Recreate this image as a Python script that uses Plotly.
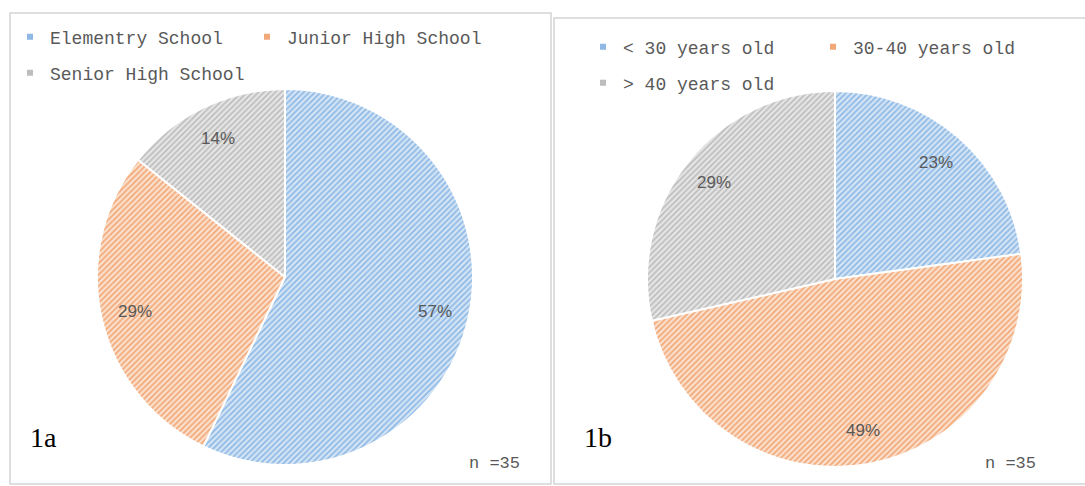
import math
import plotly.graph_objects as go

# ---- data ----
school_labels = ["Elementry School", "Junior High School", "Senior High School"]
school_counts = [20, 10, 5]
age_labels = ["< 30 years old", "30-40 years old", "> 40 years old"]
age_counts = [8, 17, 10]
panel_tags = ["1a", "1b"]
n_text = "n =35"

W, H = 1085, 486
def px(x):
    return x / W
def py(y):
    return 1 - y / H

base_colors = ["#8fb9e4", "#f2a878", "#bdbdbd"]
bg_colors = ["#d4e5f6", "#fbe1ce", "#e6e6e6"]
txt_gray = "#595959"

# pie geometry (pixels)
R = 188
centers = [(285, 277), (835, 279)]

def pie(labels, values, c):
    cx, cy = c
    return go.Pie(
        labels=labels, values=values, sort=False, direction="clockwise",
        rotation=0,
        domain=dict(x=[px(cx - R), px(cx + R)], y=[py(cy + R), py(cy - R)]),
        showlegend=False, textinfo="none",
        marker=dict(
            colors=bg_colors,
            line=dict(color="white", width=2),
            pattern=dict(shape="/", fgcolor=base_colors, bgcolor=bg_colors,
                         size=4, solidity=0.45),
        ),
        hoverinfo="label+percent",
    )

def pct_labels(values, c, rf=0.82):
    cx, cy = c
    tot = sum(values)
    out = []
    cum = 0
    for v in values:
        mid = (cum + v / 2) / tot * 2 * math.pi
        cum += v
        x = cx + rf * R * math.sin(mid)
        y = cy - rf * R * math.cos(mid)
        out.append(dict(text=f"{round(100 * v / tot)}%", x=px(x), y=py(y),
                        xref="paper", yref="paper", showarrow=False,
                        xanchor="center", yanchor="middle",
                        font=dict(family="Liberation Sans", size=17, color=txt_gray)))
    return out

fig = go.Figure()
fig.add_trace(pie(school_labels, school_counts, centers[0]))
fig.add_trace(pie(age_labels, age_counts, centers[1]))

# legend entries (split into rows like the original)
legend_ids = [["legend", "legend", "legend2"], ["legend3", "legend3", "legend4"]]
for labels, ids in [(school_labels, legend_ids[0]), (age_labels, legend_ids[1])]:
    for i, lab in enumerate(labels):
        fig.add_trace(go.Scatter(
            x=[None], y=[None], mode="markers", name=lab, legend=ids[i],
            marker=dict(symbol="square", size=6, color=base_colors[i]),
            showlegend=True, hoverinfo="skip"))

def leg(x, y, size, ew):
    return dict(orientation="h", x=px(x), y=py(y), xanchor="left", yanchor="middle",
                entrywidth=ew, entrywidthmode="pixels",
                font=dict(family="Liberation Mono", size=size, color=txt_gray),
                bgcolor="rgba(0,0,0,0)", itemclick=False, itemdoubleclick=False)

def ann(text, x, y, family, size, color):
    return dict(text=text, x=px(x), y=py(y), xref="paper", yref="paper",
                showarrow=False, xanchor="center", yanchor="middle",
                font=dict(family=family, size=size, color=color))

annotations = [
    ann(panel_tags[0], 43, 437, "Liberation Serif", 28, "black"),
    ann(panel_tags[1], 598, 437, "Liberation Serif", 28, "black"),
    ann(n_text, 494, 463, "Liberation Mono", 17, txt_gray),
    ann(n_text, 1010, 463, "Liberation Mono", 17, txt_gray),
]
annotations += pct_labels(school_counts, centers[0])
annotations += pct_labels(age_counts, centers[1])

fig.update_layout(
    width=W, height=H,
    margin=dict(l=0, r=0, t=0, b=0, autoexpand=False),
    paper_bgcolor="white", plot_bgcolor="white",
    xaxis=dict(visible=False), yaxis=dict(visible=False),
    legend=leg(10, 37, 18, 192),
    legend2=leg(10, 73, 18, 192),
    legend3=leg(583, 47, 18, 185),
    legend4=leg(583, 83, 18, 185),
    shapes=[
        dict(type="rect", xref="paper", yref="paper", x0=px(10), x1=px(551),
             y0=py(484), y1=py(13), line=dict(color="#d4d4d4", width=1.5)),
        dict(type="rect", xref="paper", yref="paper", x0=px(554), x1=px(1095),
             y0=py(484), y1=py(18), line=dict(color="#d4d4d4", width=1.5)),
    ],
    annotations=annotations,
)

fig.write_html("out.html")
